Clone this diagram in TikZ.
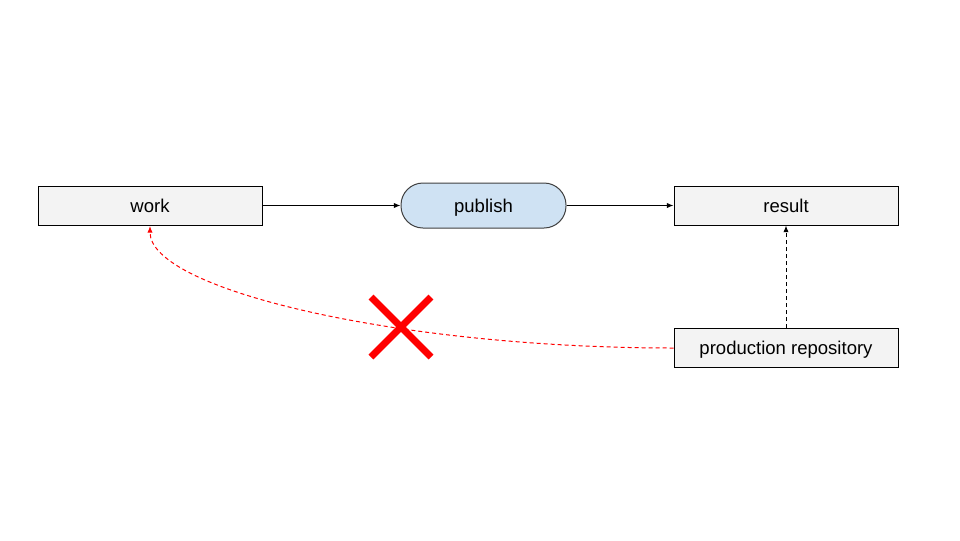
\documentclass[tikz,border=0pt]{standalone}
\usepackage{fontspec}
\setmainfont{Liberation Sans}
\usetikzlibrary{arrows.meta}
\definecolor{boxgray}{HTML}{F3F3F3}
\definecolor{pubblue}{HTML}{CFE2F3}
\definecolor{xred}{HTML}{FF0000}
\begin{document}
\begin{tikzpicture}[x=0.75pt,y=-0.75pt,
  txt/.style={font=\fontsize{13.9}{16}\selectfont,text height=12pt,text depth=2.2pt},
  box/.style={txt,draw=black,line width=0.75pt,fill=boxgray,minimum width=168pt,minimum height=29.25pt,inner sep=0pt},
  pill/.style={txt,draw=black!75,line width=0.75pt,fill=pubblue,rounded corners=16.5pt,minimum width=123.75pt,minimum height=33.75pt,inner sep=0pt},
  conn/.style={line width=0.75pt,-{Latex[length=5pt,width=4pt]}},
  dashconn/.style={conn,dash pattern=on 3pt off 2.25pt}]
\useasboundingbox (0,0) rectangle (960,540);
\node[box] (work) at (150,205.5) {work};
\node[pill] (publish) at (483.5,205.5) {publish};
\node[box] (result) at (786,205.5) {result};
\node[box] (prod) at (786,348) {production repository};
\draw[conn] (work.east) -- (publish.west);
\draw[conn] (publish.east) -- (result.west);
\draw[dashconn] (prod.north) -- (result.south);
\coordinate (wk) at (150,226);
\draw[dashconn,draw=xred,-{Latex[length=5pt,width=4pt,fill=xred]}] (prod.west) .. controls (400,348) and (150,290) .. (wk);
\draw[xred,line width=5.25pt] (371,297) -- (431,357) (371,357) -- (431,297);
\end{tikzpicture}
\end{document}
